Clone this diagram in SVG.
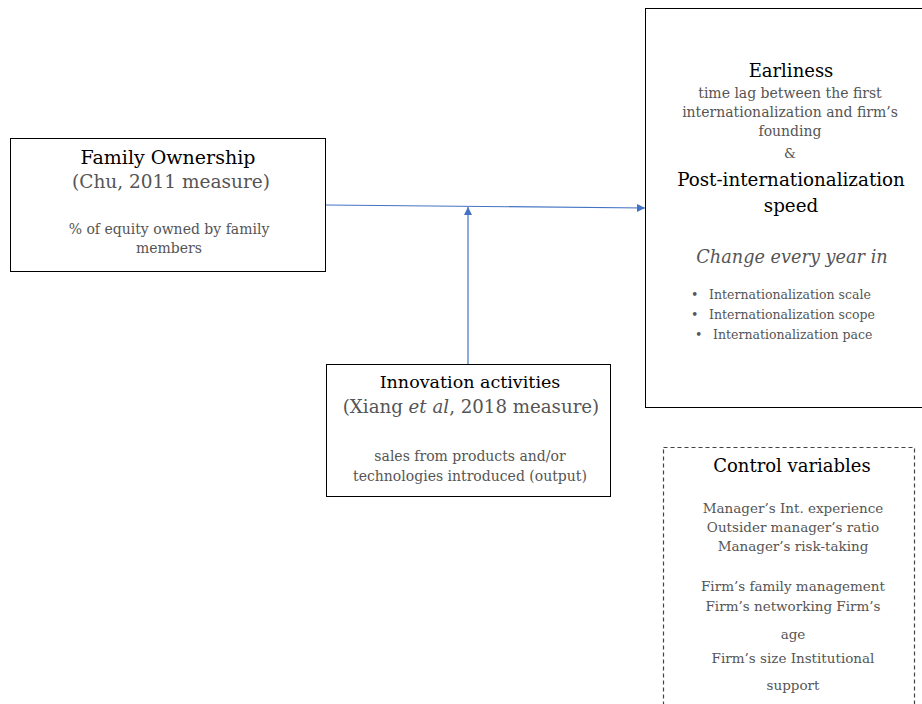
<svg xmlns="http://www.w3.org/2000/svg" width="922" height="704" viewBox="0 0 922 704">
<defs>
<style>
.box{fill:#fff;stroke:#000;stroke-width:1}
.dash{fill:#fff;stroke:#444;stroke-width:1.2;stroke-dasharray:4 3}
text{font-family:"DejaVu Serif","Liberation Serif",serif;text-anchor:middle}
.t{fill:#000;font-size:18px}
.s{fill:#555;font-size:17.5px}
.d{fill:#555;font-size:13.5px}
.b{fill:#555;font-size:12.5px;text-anchor:start}
.conn{stroke:#4472C4;stroke-width:1.2;fill:none}
</style>
<marker id="arr" viewBox="0 0 10 10" refX="10" refY="5" markerWidth="8" markerHeight="8" markerUnits="userSpaceOnUse" orient="auto">
<path d="M0,0 L10,5 L0,10 z" fill="#4472C4"/>
</marker>
</defs>
<rect width="922" height="704" fill="#fff"/>
<g id="family">
<rect class="box" x="10.5" y="138.5" width="315" height="133"/>
<text class="t" x="168" y="164" style="font-size:19px">Family Ownership</text>
<text class="s" x="171" y="188" style="font-size:18.5px">(Chu, 2011 measure)</text>
<text class="d" x="169" y="234" style="font-size:14px">% of equity owned by family</text>
<text class="d" x="169" y="253" style="font-size:14px">members</text>
</g>
<g id="outcome">
<rect class="box" x="645.5" y="8.5" width="290" height="399"/>
<text class="t" x="791" y="77">Earliness</text>
<text class="d" x="790" y="98" style="font-size:14px">time lag between the first</text>
<text class="d" x="790" y="117" style="font-size:14px">internationalization and firm’s</text>
<text class="d" x="790" y="136" style="font-size:14px">founding</text>
<text class="d" x="790" y="158">&amp;</text>
<text class="t" x="791" y="186" style="font-size:18.3px">Post-internationalization</text>
<text class="t" x="791" y="212" style="font-size:18.3px">speed</text>
<text class="s" x="792" y="263" style="font-style:italic;font-size:17.7px">Change every year in</text>
<text class="b" x="691" y="299">•</text><text class="b" x="709" y="299">Internationalization scale</text>
<text class="b" x="691" y="319">•</text><text class="b" x="709" y="319">Internationalization scope</text>
<text class="b" x="695" y="339">•</text><text class="b" x="713" y="339">Internationalization pace</text>
</g>
<g id="innovation">
<rect class="box" x="326.5" y="364.5" width="284" height="132"/>
<text class="t" x="470" y="388" style="font-size:17.5px">Innovation activities</text>
<text class="s" x="471" y="413" style="font-size:18.2px">(Xiang <tspan style="font-style:italic">et al</tspan>, 2018 measure)</text>
<text class="d" x="470" y="461" style="font-size:14px">sales from products and/or</text>
<text class="d" x="470" y="481" style="font-size:14px">technologies introduced (output)</text>
</g>
<g id="controls">
<rect class="dash" x="663.5" y="447.5" width="251" height="270"/>
<text class="t" x="792" y="472">Control variables</text>
<text class="d" x="793" y="513">Manager’s  Int. experience</text>
<text class="d" x="793" y="532">Outsider manager’s  ratio</text>
<text class="d" x="793" y="551">Manager’s  risk-taking</text>
<text class="d" x="793" y="591">Firm’s  family management</text>
<text class="d" x="793" y="611">Firm’s networking Firm’s</text>
<text class="d" x="793" y="639">age</text>
<text class="d" x="793" y="663">Firm’s  size Institutional</text>
<text class="d" x="793" y="690">support</text>
</g>
<g id="connectors">
<path class="conn" d="M326,205 L645,208" marker-end="url(#arr)"/>
<path class="conn" d="M468,364 L468,207" marker-end="url(#arr)"/>
</g>
</svg>
